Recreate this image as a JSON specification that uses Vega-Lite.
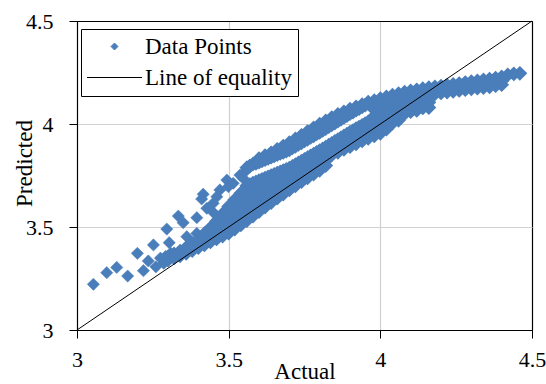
{
"$schema":"https://vega.github.io/schema/vega-lite/v6.json",
"width":455,"height":309,
"autosize":{"type":"none"},
"padding":{"left":77,"top":21,"right":14,"bottom":54},
"background":"white",
"config":{
 "font":"Liberation Serif, Times New Roman, serif",
 "view":{"stroke":"black","strokeWidth":1},
 "axis":{"domainColor":"black","tickColor":"black","tickSize":8,"tickWidth":1,"labelFont":"Liberation Serif, Times New Roman, serif","labelFontSize":22,"labelColor":"black","titleFont":"Liberation Serif, Times New Roman, serif","titleFontSize":23,"titleFontWeight":"normal","titleColor":"black","gridWidth":1.2,"labelFlush":false,"labelOverlap":false,"labelBound":false},
 "legend":{"padding":6,"strokeColor":"black","fillColor":"white","labelFont":"Liberation Serif, Times New Roman, serif","labelFontSize":23,"labelColor":"black","symbolSize":49,"symbolStrokeWidth":1,"symbolOffset":16,"labelOffset":19,"rowPadding":7,"labelLimit":300,"cornerRadius":0}
},
"datasets":{
"eq":[{"x":3,"y":3},{"x":4.5,"y":4.5}],
"pts":[
{"x":3.054,"y":3.222},{"x":3.098,"y":3.278},{"x":3.131,"y":3.304},{"x":3.167,"y":3.262},{"x":3.199,"y":3.372},{"x":3.219,"y":3.288},{"x":3.235,"y":3.335},{"x":3.252,"y":3.413},{"x":3.26,"y":3.307},{"x":3.275,"y":3.349},{"x":3.286,"y":3.324},{"x":3.292,"y":3.357},{"x":3.296,"y":3.49},{"x":3.304,"y":3.424},{"x":3.309,"y":3.373},{"x":3.334,"y":3.553},{"x":3.35,"y":3.521},{"x":3.362,"y":3.453},{"x":3.395,"y":3.545},{"x":3.395,"y":3.469},{"x":3.411,"y":3.636},{"x":3.416,"y":3.659},{"x":3.428,"y":3.591},{"x":3.449,"y":3.615},{"x":3.449,"y":3.571},{"x":3.461,"y":3.647},{"x":3.471,"y":3.68},{"x":3.494,"y":3.728},{"x":3.499,"y":3.696},{"x":3.515,"y":3.712},{"x":3.537,"y":3.752},{"x":3.548,"y":3.736},{"x":3.57,"y":3.793},{"x":3.555,"y":3.77}
],
"band":[
{"x":3.3,"y":3.34},{"x":3.3,"y":3.355},
{"x":3.32,"y":3.35},{"x":3.32,"y":3.369},
{"x":3.34,"y":3.36},{"x":3.34,"y":3.383},
{"x":3.36,"y":3.372},{"x":3.36,"y":3.386},{"x":3.36,"y":3.4},
{"x":3.38,"y":3.386},{"x":3.38,"y":3.403},{"x":3.38,"y":3.42},
{"x":3.4,"y":3.4},{"x":3.4,"y":3.42},{"x":3.4,"y":3.44},
{"x":3.42,"y":3.414},{"x":3.42,"y":3.432},{"x":3.42,"y":3.45},{"x":3.42,"y":3.468},
{"x":3.44,"y":3.428},{"x":3.44,"y":3.451},{"x":3.44,"y":3.473},{"x":3.44,"y":3.496},
{"x":3.46,"y":3.442},{"x":3.46,"y":3.464},{"x":3.46,"y":3.485},{"x":3.46,"y":3.507},{"x":3.46,"y":3.528},
{"x":3.48,"y":3.456},{"x":3.48,"y":3.478},{"x":3.48,"y":3.499},{"x":3.48,"y":3.521},{"x":3.48,"y":3.542},{"x":3.48,"y":3.564},
{"x":3.5,"y":3.47},{"x":3.5,"y":3.492},{"x":3.5,"y":3.513},{"x":3.5,"y":3.535},{"x":3.5,"y":3.557},{"x":3.5,"y":3.578},{"x":3.5,"y":3.6},
{"x":3.52,"y":3.49},{"x":3.52,"y":3.514},{"x":3.52,"y":3.537},{"x":3.52,"y":3.561},{"x":3.52,"y":3.585},{"x":3.52,"y":3.608},{"x":3.52,"y":3.632},
{"x":3.54,"y":3.51},{"x":3.54,"y":3.532},{"x":3.54,"y":3.554},{"x":3.54,"y":3.576},{"x":3.54,"y":3.598},{"x":3.54,"y":3.62},{"x":3.54,"y":3.642},{"x":3.54,"y":3.664},
{"x":3.56,"y":3.531},{"x":3.56,"y":3.556},{"x":3.56,"y":3.582},{"x":3.56,"y":3.607},{"x":3.56,"y":3.632},{"x":3.56,"y":3.657},{"x":3.56,"y":3.68},{"x":3.56,"y":3.7},
{"x":3.58,"y":3.553},{"x":3.58,"y":3.577},{"x":3.58,"y":3.601},{"x":3.58,"y":3.625},{"x":3.58,"y":3.649},{"x":3.58,"y":3.673},{"x":3.58,"y":3.695},{"x":3.58,"y":3.713},
{"x":3.6,"y":3.575},{"x":3.6,"y":3.598},{"x":3.6,"y":3.62},{"x":3.6,"y":3.643},{"x":3.6,"y":3.665},{"x":3.6,"y":3.688},{"x":3.6,"y":3.707},{"x":3.6,"y":3.725},
{"x":3.62,"y":3.597},{"x":3.62,"y":3.622},{"x":3.62,"y":3.646},{"x":3.62,"y":3.671},{"x":3.62,"y":3.694},{"x":3.62,"y":3.716},{"x":3.62,"y":3.737},
{"x":3.64,"y":3.619},{"x":3.64,"y":3.642},{"x":3.64,"y":3.665},{"x":3.64,"y":3.688},{"x":3.64,"y":3.709},{"x":3.64,"y":3.729},{"x":3.64,"y":3.749},
{"x":3.66,"y":3.64},{"x":3.66,"y":3.662},{"x":3.66,"y":3.683},{"x":3.66,"y":3.705},{"x":3.66,"y":3.724},{"x":3.66,"y":3.743},{"x":3.66,"y":3.761},
{"x":3.68,"y":3.66},{"x":3.68,"y":3.684},{"x":3.68,"y":3.708},{"x":3.68,"y":3.731},{"x":3.68,"y":3.753},{"x":3.68,"y":3.773},
{"x":3.7,"y":3.68},{"x":3.7,"y":3.703},{"x":3.7,"y":3.725},{"x":3.7,"y":3.746},{"x":3.7,"y":3.766},{"x":3.7,"y":3.785},
{"x":3.72,"y":3.7},{"x":3.72,"y":3.722},{"x":3.72,"y":3.744},{"x":3.72,"y":3.764},{"x":3.72,"y":3.783},{"x":3.72,"y":3.802},
{"x":3.74,"y":3.72},{"x":3.74,"y":3.741},{"x":3.74,"y":3.762},{"x":3.74,"y":3.782},{"x":3.74,"y":3.801},{"x":3.74,"y":3.819},
{"x":3.76,"y":3.739},{"x":3.76,"y":3.76},{"x":3.76,"y":3.78},{"x":3.76,"y":3.799},{"x":3.76,"y":3.818},{"x":3.76,"y":3.836},
{"x":3.78,"y":3.757},{"x":3.78,"y":3.778},{"x":3.78,"y":3.797},{"x":3.78,"y":3.816},{"x":3.78,"y":3.835},{"x":3.78,"y":3.853},
{"x":3.8,"y":3.775},{"x":3.8,"y":3.795},{"x":3.8,"y":3.814},{"x":3.8,"y":3.833},{"x":3.8,"y":3.852},{"x":3.8,"y":3.87},
{"x":3.82,"y":3.798},{"x":3.82,"y":3.821},{"x":3.82,"y":3.843},{"x":3.82,"y":3.866},{"x":3.82,"y":3.888},
{"x":3.84,"y":3.85},{"x":3.84,"y":3.869},{"x":3.84,"y":3.888},{"x":3.84,"y":3.906},
{"x":3.86,"y":3.863},{"x":3.86,"y":3.884},{"x":3.86,"y":3.904},{"x":3.86,"y":3.924},
{"x":3.88,"y":3.877},{"x":3.88,"y":3.899},{"x":3.88,"y":3.921},{"x":3.88,"y":3.942},
{"x":3.9,"y":3.89},{"x":3.9,"y":3.913},{"x":3.9,"y":3.937},{"x":3.9,"y":3.96},
{"x":3.92,"y":3.904},{"x":3.92,"y":3.922},{"x":3.92,"y":3.94},{"x":3.92,"y":3.959},{"x":3.92,"y":3.977},
{"x":3.94,"y":3.918},{"x":3.94,"y":3.937},{"x":3.94,"y":3.956},{"x":3.94,"y":3.974},{"x":3.94,"y":3.993},
{"x":3.96,"y":3.931},{"x":3.96,"y":3.951},{"x":3.96,"y":3.971},{"x":3.96,"y":3.99},{"x":3.96,"y":4.01},
{"x":3.98,"y":3.943},{"x":3.98,"y":3.967},{"x":3.98,"y":3.99},{"x":3.98,"y":4.014},{"x":3.98,"y":4.038},
{"x":4,"y":3.955},{"x":4,"y":3.979},{"x":4,"y":4.003},{"x":4,"y":4.026},{"x":4,"y":4.05},
{"x":4.02,"y":3.975},{"x":4.02,"y":3.996},{"x":4.02,"y":4.017},{"x":4.02,"y":4.037},{"x":4.02,"y":4.058},
{"x":4.04,"y":4.005},{"x":4.04,"y":4.025},{"x":4.04,"y":4.046},{"x":4.04,"y":4.066},
{"x":4.06,"y":4.018},{"x":4.06,"y":4.045},{"x":4.06,"y":4.072},
{"x":4.08,"y":4.05},{"x":4.08,"y":4.076},
{"x":4.1,"y":4.06},{"x":4.1,"y":4.08},
{"x":4.12,"y":4.066},{"x":4.12,"y":4.082},
{"x":4.14,"y":4.078},
{"x":4.16,"y":4.08},
{"x":3.57,"y":3.706},{"x":3.59,"y":3.719},{"x":3.61,"y":3.731},{"x":3.63,"y":3.743},{"x":3.65,"y":3.755},{"x":3.67,"y":3.767},{"x":3.69,"y":3.779},{"x":3.71,"y":3.794},{"x":3.73,"y":3.811},{"x":3.75,"y":3.828},{"x":3.77,"y":3.845},{"x":3.79,"y":3.862},{"x":3.81,"y":3.879},{"x":3.83,"y":3.897},{"x":3.85,"y":3.915},{"x":3.87,"y":3.933},{"x":3.89,"y":3.951},{"x":3.91,"y":3.968},{"x":3.93,"y":3.985},{"x":3.95,"y":4.002},
{"x":3.57,"y":3.796},{"x":3.59,"y":3.809},{"x":3.61,"y":3.821},{"x":3.63,"y":3.833},{"x":3.65,"y":3.845},{"x":3.67,"y":3.857},{"x":3.69,"y":3.869},{"x":3.71,"y":3.884},{"x":3.73,"y":3.901},{"x":3.75,"y":3.918},{"x":3.77,"y":3.935},{"x":3.79,"y":3.952},{"x":3.81,"y":3.969},{"x":3.83,"y":3.987},{"x":3.85,"y":4.005},{"x":3.87,"y":4.023},{"x":3.89,"y":4.041},{"x":3.91,"y":4.058},{"x":3.93,"y":4.075},{"x":3.95,"y":4.092},
{"x":3.56,"y":3.788},
{"x":3.58,"y":3.805},
{"x":3.6,"y":3.815},{"x":3.6,"y":3.832},
{"x":3.62,"y":3.827},{"x":3.62,"y":3.846},
{"x":3.64,"y":3.839},{"x":3.64,"y":3.86},
{"x":3.66,"y":3.851},{"x":3.66,"y":3.864},{"x":3.66,"y":3.877},
{"x":3.68,"y":3.863},{"x":3.68,"y":3.878},{"x":3.68,"y":3.893},
{"x":3.7,"y":3.875},{"x":3.7,"y":3.892},{"x":3.7,"y":3.909},
{"x":3.72,"y":3.892},{"x":3.72,"y":3.909},{"x":3.72,"y":3.927},
{"x":3.74,"y":3.909},{"x":3.74,"y":3.927},{"x":3.74,"y":3.945},
{"x":3.76,"y":3.926},{"x":3.76,"y":3.944},{"x":3.76,"y":3.963},
{"x":3.78,"y":3.943},{"x":3.78,"y":3.962},{"x":3.78,"y":3.981},
{"x":3.8,"y":3.96},{"x":3.8,"y":3.979},{"x":3.8,"y":3.999},
{"x":3.82,"y":3.978},{"x":3.82,"y":3.996},{"x":3.82,"y":4.015},
{"x":3.84,"y":3.996},{"x":3.84,"y":4.013},{"x":3.84,"y":4.031},
{"x":3.86,"y":4.014},{"x":3.86,"y":4.03},{"x":3.86,"y":4.046},
{"x":3.88,"y":4.032},{"x":3.88,"y":4.046},{"x":3.88,"y":4.059},
{"x":3.9,"y":4.05},{"x":3.9,"y":4.072},
{"x":3.92,"y":4.067},{"x":3.92,"y":4.083},
{"x":3.94,"y":4.083},{"x":3.94,"y":4.094},
{"x":3.96,"y":4.1},{"x":3.96,"y":4.106},
{"x":3.98,"y":4.07},{"x":3.98,"y":4.092},{"x":3.98,"y":4.113},
{"x":4,"y":4.075},{"x":4,"y":4.1},{"x":4,"y":4.123},
{"x":4.02,"y":4.083},{"x":4.02,"y":4.107},{"x":4.02,"y":4.131},
{"x":4.04,"y":4.09},{"x":4.04,"y":4.115},{"x":4.04,"y":4.14},
{"x":4.06,"y":4.097},{"x":4.06,"y":4.122},{"x":4.06,"y":4.147},
{"x":4.08,"y":4.1},{"x":4.08,"y":4.127},{"x":4.08,"y":4.154},
{"x":4.1,"y":4.105},{"x":4.1,"y":4.132},{"x":4.1,"y":4.16},
{"x":4.12,"y":4.107},{"x":4.12,"y":4.137},{"x":4.12,"y":4.166},
{"x":4.14,"y":4.1},{"x":4.14,"y":4.124},{"x":4.14,"y":4.147},{"x":4.14,"y":4.171},
{"x":4.16,"y":4.105},{"x":4.16,"y":4.129},{"x":4.16,"y":4.152},{"x":4.16,"y":4.176},
{"x":4.18,"y":4.147},{"x":4.18,"y":4.164},{"x":4.18,"y":4.18},
{"x":4.2,"y":4.151},{"x":4.2,"y":4.168},{"x":4.2,"y":4.184},
{"x":4.22,"y":4.155},{"x":4.22,"y":4.172},{"x":4.22,"y":4.188},
{"x":4.24,"y":4.159},{"x":4.24,"y":4.176},{"x":4.24,"y":4.192},
{"x":4.26,"y":4.163},{"x":4.26,"y":4.18},{"x":4.26,"y":4.196},
{"x":4.28,"y":4.167},{"x":4.28,"y":4.184},{"x":4.28,"y":4.201},
{"x":4.3,"y":4.171},{"x":4.3,"y":4.188},{"x":4.3,"y":4.205},
{"x":4.32,"y":4.174},{"x":4.32,"y":4.192},{"x":4.32,"y":4.209},
{"x":4.34,"y":4.177},{"x":4.34,"y":4.196},{"x":4.34,"y":4.214},
{"x":4.36,"y":4.181},{"x":4.36,"y":4.2},{"x":4.36,"y":4.218},
{"x":4.38,"y":4.186},{"x":4.38,"y":4.205},{"x":4.38,"y":4.223},
{"x":4.4,"y":4.191},{"x":4.4,"y":4.209},{"x":4.4,"y":4.228},
{"x":4.42,"y":4.238},
{"x":4.44,"y":4.243},
{"x":4.46,"y":4.246}
]},
"layer":[
{
 "data":{"name":"band"},
 "mark":{"type":"point","filled":true,"opacity":1,"shape":"diamond","size":220,"color":"#4a7ebb","strokeWidth":0},
 "encoding":{
  "x":{"field":"x","type":"quantitative","scale":{"domain":[3,4.5],"nice":false,"zero":false},
   "axis":{"title":"Actual","values":[3,3.5,4,4.5],"format":"~g","labelPadding":11,"titleY":48,"titleBaseline":"alphabetic",
    "gridColor":{"condition":{"test":"datum.value == 3.5 || datum.value == 4","value":"#d0d0d0"},"value":"black"}}},
  "y":{"field":"y","type":"quantitative","scale":{"domain":[3,4.5],"nice":false,"zero":false},
   "axis":{"title":"Predicted","values":[3,3.5,4,4.5],"format":"~g","labelPadding":16,"titleX":-45.5,"titleY":142,"titleAngle":270,"titleBaseline":"alphabetic","titleAlign":"center",
    "gridColor":{"condition":{"test":"datum.value == 3.5 || datum.value == 4","value":"#d0d0d0"},"value":"black"}}}
 }
},
{
 "data":{"name":"pts"},
 "mark":{"type":"point","filled":true,"opacity":1,"size":150,"strokeWidth":0.5},
 "encoding":{
  "x":{"field":"x","type":"quantitative"},
  "y":{"field":"y","type":"quantitative"},
  "color":{"datum":"Data Points","type":"nominal","scale":{"domain":["Data Points","Line of equality"],"range":["#4a7ebb","#000000"]},"legend":{"title":null,"orient":"none","legendX":4,"legendY":8}},
  "stroke":{"datum":"Data Points","type":"nominal","scale":{"domain":["Data Points","Line of equality"],"range":["#4a7ebb","#000000"]},"legend":{"title":null,"orient":"none","legendX":4,"legendY":8}},
  "shape":{"datum":"Data Points","type":"nominal","scale":{"domain":["Data Points","Line of equality"],"range":["diamond","M-7.86,0L7.86,0"]},"legend":{"title":null,"orient":"none","legendX":4,"legendY":8}}
 }
},
{
 "data":{"name":"eq"},
 "mark":{"type":"line","color":"black","strokeWidth":1},
 "encoding":{"x":{"field":"x","type":"quantitative"},"y":{"field":"y","type":"quantitative"}}
}
]
}
